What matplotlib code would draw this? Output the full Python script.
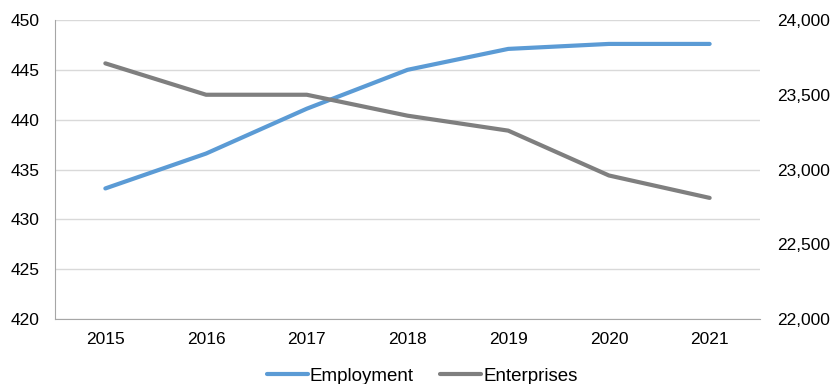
import matplotlib
matplotlib.use("Agg")
import matplotlib.pyplot as plt
from matplotlib.ticker import FuncFormatter

years = ["2015", "2016", "2017", "2018", "2019", "2020", "2021"]
employment = [433.1, 436.6, 441.1, 445.0, 447.1, 447.6, 447.6]
enterprises = [23710, 23500, 23500, 23360, 23260, 22960, 22810]

plt.rcParams['font.family'] = ['Liberation Sans', 'DejaVu Sans']

fig = plt.figure(figsize=(8.31, 3.84), dpi=100)
ax = fig.add_axes([55/831, 1-319/384, 705/831, 299/384])
ax2 = ax.twinx()

x = list(range(len(years)))
l1, = ax.plot(x, employment, color="#5B9BD5", lw=3, solid_capstyle="round", label="Employment", zorder=3)
l2, = ax2.plot(x, enterprises, color="#7F7F7F", lw=3, solid_capstyle="round", label="Enterprises", zorder=3)

ax.set_xlim(-0.5, 6.5)
ax.set_ylim(420, 450)
ax.set_yticks(range(420, 451, 5))
ax2.set_ylim(22000, 24000)
ax2.set_yticks(range(22000, 24001, 500))
ax2.yaxis.set_major_formatter(FuncFormatter(lambda v, p: f"{int(v):,}"))
ax.set_xticks(x)
ax.set_xticklabels(years)

# gridlines
ax.grid(axis="y", color="#D9D9D9", lw=1)
ax.set_axisbelow(True)

for a in (ax, ax2):
    a.spines["top"].set_visible(False)
    a.spines["right"].set_visible(False)
    a.tick_params(length=0, labelsize=12.5, colors="#000000")
ax2.spines["left"].set_visible(False)
ax2.spines["bottom"].set_visible(False)
ax.spines["left"].set_color("#A6A6A6")
ax.spines["bottom"].set_color("#A6A6A6")
ax.tick_params(axis="y", pad=11)
ax.tick_params(axis="x", pad=9)
ax2.tick_params(axis="y", pad=12)

fig.legend(handles=[l1, l2], loc="center", bbox_to_anchor=(0.508, 1-376/384),
           ncol=2, frameon=False, fontsize=13.5, handlelength=2.2,
           handletextpad=0.1, columnspacing=1.4)

fig.savefig("out.png", dpi=100)
